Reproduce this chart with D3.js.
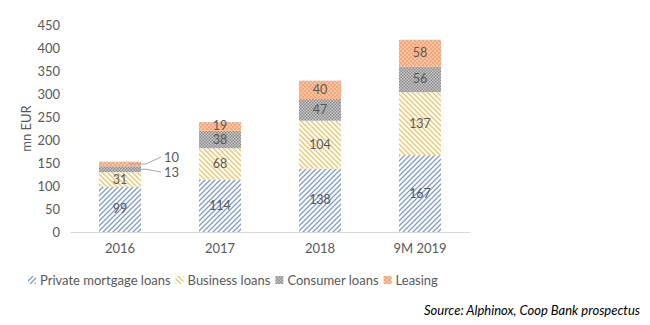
<!DOCTYPE html>
<html><head><meta charset="utf-8">
<script src="https://cdn.jsdelivr.net/npm/d3@7"></script>
<style>body{margin:0;background:#fff;} svg{display:block;}</style>
</head><body>
<svg id="c" width="650" height="325"></svg>
<script>
const categories = ["2016","2017","2018","9M 2019"];
const seriesNames = ["Private mortgage loans","Business loans","Consumer loans","Leasing"];
const mortgage = [99,114,138,167];
const business = [31,68,104,137];
const consumer = [13,38,47,56];
const leasing = [10,19,40,58];
const yTicks = [0,50,100,150,200,250,300,350,400,450];

const svg = d3.select("#c");
const font = "Lato, 'Open Sans', sans-serif";
const txt = "#595959";
const m = {l:70, r:180, t:25, b:93};
const W = 650, H = 325;
const x = d3.scaleBand().domain(categories).range([m.l, W - m.r]).paddingInner(0.58).paddingOuter(0.29);
const y = d3.scaleLinear().domain([0,450]).range([H - m.b, m.t]);

const defs = svg.append("defs");
function pat(id, size, bg, draw){
  const p = defs.append("pattern").attr("id", id).attr("patternUnits","userSpaceOnUse").attr("width", size).attr("height", size);
  p.append("rect").attr("width", size).attr("height", size).attr("fill", bg);
  draw(p);
}
pat("pM", 5, "#fff", p => {
  p.append("path").attr("d","M-1,1 l2,-2 M0,5 l5,-5 M4,6 l2,-2").attr("stroke","#7f9bd0").attr("stroke-width",1.3);
});
pat("pB", 5, "#fff", p => {
  p.append("path").attr("d","M-1,4 l2,2 M0,0 l5,5 M4,-1 l2,2").attr("stroke","#efc872").attr("stroke-width",1.5);
});
pat("pC", 3, "#c9c9c9", p => {
  p.append("rect").attr("width",1.5).attr("height",1.5).attr("fill","#8c8c8c");
  p.append("rect").attr("x",1.5).attr("y",1.5).attr("width",1.5).attr("height",1.5).attr("fill","#8c8c8c");
});
pat("pL", 4, "#f4a97a", p => {
  p.append("circle").attr("cx",1).attr("cy",1).attr("r",0.8).attr("fill","#fde3d2");
  p.append("circle").attr("cx",3).attr("cy",3).attr("r",0.8).attr("fill","#fde3d2");
});
const fills = ["url(#pM)","url(#pB)","url(#pC)","url(#pL)"];

const yAxis = svg.append("g").attr("transform",`translate(${m.l},0)`).call(d3.axisLeft(y).tickValues(yTicks).tickSize(0).tickPadding(10));
yAxis.select(".domain").remove();
yAxis.selectAll("text").attr("font-family",font).attr("font-size",13).attr("fill",txt);

const xAxis = svg.append("g").attr("transform",`translate(0,${y(0)})`).call(d3.axisBottom(x).tickSize(0).tickPadding(12));
xAxis.select(".domain").attr("stroke","#d9d9d9").attr("stroke-width",1);
xAxis.selectAll("text").attr("font-family",font).attr("font-size",13).attr("fill",txt);

const table = categories.map((c,i)=>({cat:c, v:[mortgage[i],business[i],consumer[i],leasing[i]]}));
const stack = d3.stack().keys([0,1,2,3]).value((d,k)=>d.v[k])(table);

stack.forEach((layer, k) => {
  svg.append("g").selectAll("rect").data(layer).join("rect")
    .attr("x", d => x(d.data.cat))
    .attr("y", d => y(d[1]))
    .attr("width", x.bandwidth())
    .attr("height", d => y(d[0]) - y(d[1]))
    .attr("fill", fills[k]);
});

// inside labels, nudged apart where segments are thin
const minGap = 14.5;
categories.forEach((c, i) => {
  const labs = [];
  stack.forEach((layer, k) => {
    if (c === "2016" && k >= 2) return;
    const d = layer[i];
    labs.push({k, v: d.data.v[k], cy: (y(d[0]) + y(d[1]))/2});
  });
  for (let j = 1; j < labs.length; j++) {
    const gap = labs[j-1].cy - labs[j].cy;
    if (gap < minGap) {
      const s = (minGap - gap)/2;
      labs[j-1].cy += s; labs[j].cy -= s;
    }
  }
  labs.forEach(o => {
    svg.append("text").attr("x", x(c) + x.bandwidth()/2).attr("y", o.cy + 4.2)
      .attr("text-anchor","middle").attr("font-family",font).attr("font-size",12.5).attr("fill",txt).text(o.v);
  });
});

const s0 = stack[2][0], s1 = stack[3][0];
const bx = x("2016") + x.bandwidth();
const lab = [
  {seg:s1, v:leasing[0], ly:y(0)-75},
  {seg:s0, v:consumer[0], ly:y(0)-60}
];
lab.forEach(o => {
  const my = (y(o.seg[0]) + y(o.seg[1]))/2;
  svg.append("path").attr("d", `M${bx-12},${my} L${bx+5},${my} L${bx+20},${o.ly}`)
    .attr("fill","none").attr("stroke","#a6a6a6").attr("stroke-width",1);
  svg.append("text").attr("x", bx+23).attr("y", o.ly+4.5).attr("font-family",font).attr("font-size",13).attr("fill",txt).text(o.v);
});

svg.append("text").attr("transform",`translate(31,${(y(0)+y(450))/2}) rotate(-90)`)
  .attr("text-anchor","middle").attr("font-family",font).attr("font-size",13).attr("fill",txt).text("mn EUR");

const lg = svg.append("g").attr("transform","translate(28,281)");
let lx = 0;
seriesNames.forEach((n,i) => {
  lg.append("rect").attr("x",lx).attr("y",-5).attr("width",8).attr("height",8).attr("fill",fills[i]);
  const t = lg.append("text").attr("x",lx+12).attr("y",4).attr("font-family",font).attr("font-size",13).attr("fill",txt).text(n);
  lx += 12 + t.node().getComputedTextLength() + 5;
});

svg.append("text").attr("x",640).attr("y",315).attr("text-anchor","end").attr("font-family",font)
  .attr("font-style","italic").attr("font-size",13).attr("fill","#000").text("Source: Alphinox, Coop Bank prospectus");
</script>
</body></html>
